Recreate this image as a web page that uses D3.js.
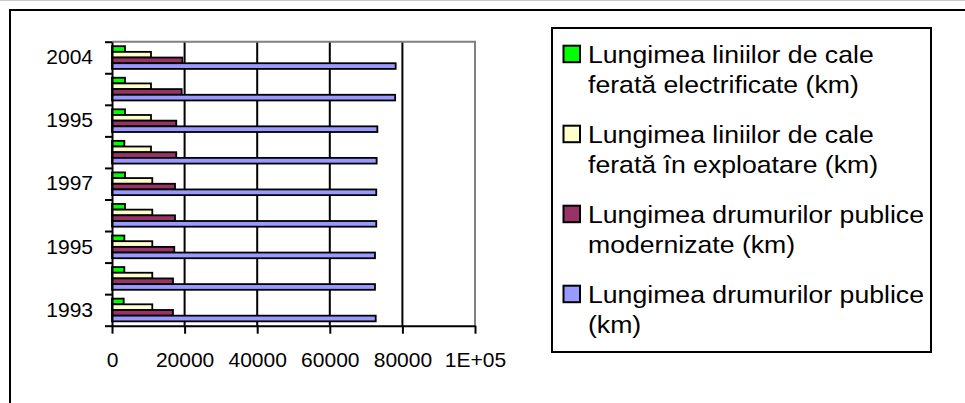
<!DOCTYPE html>
<html>
<head>
<meta charset="utf-8">
<script src="https://cdn.jsdelivr.net/npm/d3@7"></script>
<style>
  body { margin: 0; background: #fff; }
  svg { display: block; }
  text { font-family: "Liberation Sans", Arial, sans-serif; fill: #000; }
</style>
</head>
<body>
<svg id="chart" width="965" height="403"></svg>
<script>
// Categories, listed bottom to top (every other one carries a label)
const years = ["1993", "1994", "1995", "1996", "1997", "1998", "1995", "2003", "2004"];
const labelledYears = [0, 2, 4, 6, 8];

// Series values (km), bottom to top, aligned with `years`
const caleFerataElectrificata = [3220, 3400, 3400, 3580, 3580, 3400, 3580, 3580, 3580];
const caleFerataExploatare    = [11100, 11100, 11100, 11100, 11100, 10740, 10740, 10740, 10740];
const drumuriModernizate      = [16800, 16800, 17160, 17360, 17360, 17700, 17700, 19200, 19370];
const drumuriPublice          = [72650, 72450, 72450, 72800, 72800, 72900, 73100, 78000, 78150];

const seriesNames = [
  ["Lungimea liniilor de cale", "ferată electrificate (km)"],
  ["Lungimea liniilor de cale", "ferată în exploatare (km)"],
  ["Lungimea drumurilor publice", "modernizate (km)"],
  ["Lungimea drumurilor publice", "(km)"]
];
const seriesColors = ["#00ff00", "#ffffcc", "#993366", "#9999ff"];
const seriesValues = [caleFerataElectrificata, caleFerataExploatare, drumuriModernizate, drumuriPublice];

// Value axis ticks
const xTickValues = [0, 20000, 40000, 60000, 80000, 100000];
const xTickLabels = ["0", "20000", "40000", "60000", "80000", "1E+05"];

const svg = d3.select("#chart");

// Frame lines around the whole chart
svg.append("line").attr("x1", 0).attr("x2", 965).attr("y1", 0.5).attr("y2", 0.5)
  .attr("stroke", "#c8c8c8").attr("stroke-width", 1);
svg.append("rect").attr("x", 10).attr("y", 10).attr("width", 990).attr("height", 430)
  .attr("fill", "none").attr("stroke", "#000").attr("stroke-width", 2);

const plot = { left: 112, right: 475, top: 41.7, bottom: 325.7 };

const x = d3.scaleLinear().domain([0, 100000]).range([plot.left, plot.right]);
const yCat = d3.scaleBand().domain(d3.range(years.length)).range([plot.bottom, plot.top]).padding(0);
const yBounds = d3.scaleLinear().domain([0, years.length]).range([plot.bottom, plot.top]);
const bw = yCat.bandwidth();
const ySer = d3.scaleBand().domain(d3.range(seriesValues.length))
  .range([bw * 0.142, bw * 0.862]).padding(0);

// Vertical gridlines
svg.append("g").selectAll("line")
  .data(xTickValues.slice(1, -1))
  .join("line")
  .attr("x1", d => x(d)).attr("x2", d => x(d))
  .attr("y1", plot.top).attr("y2", plot.bottom)
  .attr("stroke", "#000").attr("stroke-width", 2);

// Plot area top and right edges
svg.append("path")
  .attr("d", `M${plot.left},${plot.top}H${plot.right}V${plot.bottom}`)
  .attr("fill", "none").attr("stroke", "#808080").attr("stroke-width", 2);

// Bars
const bars = [];
years.forEach((yr, i) => {
  seriesValues.forEach((vals, s) => bars.push({ i, s, v: vals[i] }));
});
svg.append("g").selectAll("rect")
  .data(bars)
  .join("rect")
  .attr("x", x(0))
  .attr("y", d => yCat(d.i) + ySer(d.s))
  .attr("width", d => x(d.v) - x(0))
  .attr("height", ySer.bandwidth())
  .attr("fill", d => seriesColors[d.s])
  .attr("stroke", "#000")
  .attr("stroke-width", 1.8);

// Category axis: ticks on band boundaries
const yAxis = svg.append("g").attr("transform", `translate(${plot.left},0)`)
  .call(d3.axisLeft(yBounds).tickValues(d3.range(years.length + 1)).tickSize(7).tickSizeOuter(0).tickFormat(""));
yAxis.selectAll("line, path").attr("stroke", "#000").attr("stroke-width", 2);

// Category labels centred in their bands
const yLabels = svg.append("g").attr("transform", `translate(${plot.left},0)`)
  .call(d3.axisLeft(yCat).tickValues(labelledYears).tickSize(0).tickPadding(19).tickFormat(i => years[i]));
yLabels.select(".domain").remove();
yLabels.selectAll("text").attr("font-size", 21).attr("font-family", "Liberation Sans, Arial, sans-serif");

// Value axis
const xAxis = svg.append("g").attr("transform", `translate(0,${plot.bottom})`)
  .call(d3.axisBottom(x).tickValues(xTickValues).tickSize(8).tickSizeOuter(0).tickPadding(18)
    .tickFormat((d, k) => xTickLabels[k]));
xAxis.selectAll("line, path").attr("stroke", "#000").attr("stroke-width", 2);
xAxis.selectAll("text").attr("font-size", 21).attr("font-family", "Liberation Sans, Arial, sans-serif");

// Legend
const legend = svg.append("g");
legend.append("rect").attr("x", 552).attr("y", 28).attr("width", 379).attr("height", 324)
  .attr("fill", "#fff").attr("stroke", "#000").attr("stroke-width", 2);

const entry = legend.selectAll("g.entry")
  .data(seriesNames.map((lines, s) => ({ lines, s })))
  .join("g").attr("class", "entry")
  .attr("transform", d => `translate(0,${62.7 + 80 * d.s})`);

entry.append("rect")
  .attr("x", 563.5).attr("y", -17).attr("width", 16.5).attr("height", 16.5)
  .attr("fill", d => seriesColors[d.s]).attr("stroke", "#000").attr("stroke-width", 2);

entry.append("g").attr("transform", "translate(588,0) scale(1.11,1)")
  .selectAll("text")
  .data(d => d.lines)
  .join("text")
  .attr("x", 0).attr("y", (d, k) => k * 30)
  .attr("font-size", 24)
  .text(d => d);
</script>
</body>
</html>
